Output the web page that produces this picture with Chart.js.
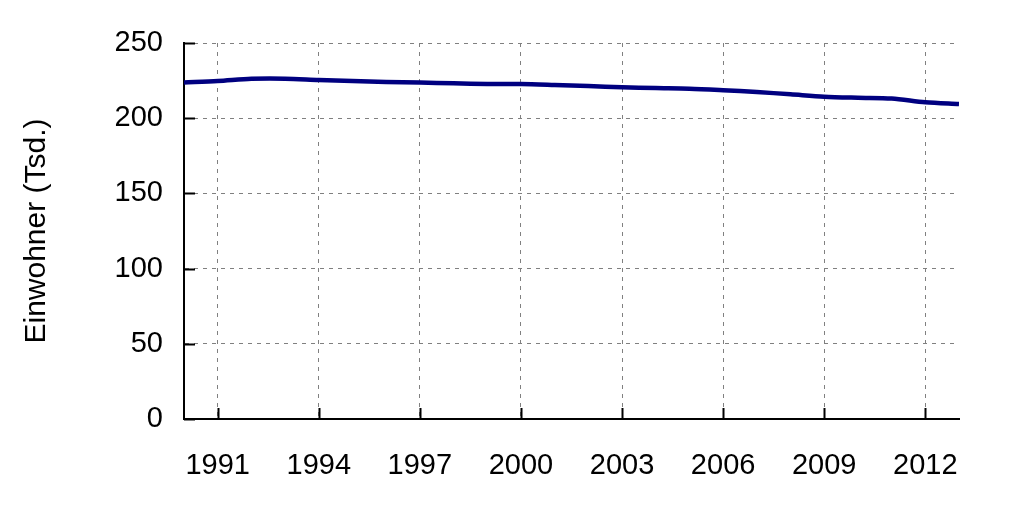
<!DOCTYPE html>
<html>
<head>
<meta charset="utf-8">
<script src="https://cdn.jsdelivr.net/npm/chart.js@4"></script>
<style>
  html, body { margin: 0; padding: 0; background: #fff; }
  #wrap { width: 1024px; height: 512px; }
</style>
</head>
<body>
<div id="wrap"><canvas id="chart" width="1024" height="512"></canvas></div>
<script>
// Jahre und Einwohner (Tsd.)
const years = [1990, 1991, 1992, 1993, 1994, 1995, 1996, 1997, 1998, 1999, 2000, 2001,
               2002, 2003, 2004, 2005, 2006, 2007, 2008, 2009, 2010, 2011, 2012, 2013];
const einwohner = [223.8, 224.7, 226.2, 226.3, 225.4, 224.7, 224.1, 223.7, 223.2, 222.8, 222.7, 222.1,
                   221.4, 220.5, 220.0, 219.6, 218.6, 217.4, 215.9, 214.3, 213.6, 213.1, 210.6, 209.4];
const xTicks = [1991, 1994, 1997, 2000, 2003, 2006, 2009, 2012];
const yTicks = [0, 50, 100, 150, 200, 250];

const FONT = "'Liberation Sans', Arial, sans-serif";

// kleine Striche nach innen an den Achsen
const innerTicks = {
    id: "innerTicks",
    afterDatasetsDraw(chart) {
        const { ctx, scales: { x, y }, chartArea } = chart;
        ctx.save();
        ctx.strokeStyle = "#000";
        ctx.lineWidth = 2;
        ctx.beginPath();
        xTicks.forEach((t) => {
            const px = Math.round(x.getPixelForValue(t)) + 0.5;
            ctx.moveTo(px, chartArea.bottom);
            ctx.lineTo(px, chartArea.bottom - 11);
        });
        yTicks.forEach((t) => {
            const py = Math.round(y.getPixelForValue(t)) + 0.5;
            ctx.moveTo(chartArea.left, py);
            ctx.lineTo(chartArea.left + 11, py);
        });
        ctx.stroke();
        ctx.restore();
    },
};

new Chart(document.getElementById("chart"), {
    type: "line",
    data: {
        datasets: [{
            data: years.map((yr, i) => ({ x: yr, y: einwohner[i] })),
            borderColor: "#000080",
            borderWidth: 4.5,
            pointRadius: 0,
            tension: 0.3,
            fill: false,
        }],
    },
    options: {
        responsive: false,
        animation: false,
        layout: { padding: { left: 0, right: 65, top: 43, bottom: 0 } },
        plugins: { legend: { display: false }, tooltip: { enabled: false } },
        scales: {
            x: {
                type: "linear",
                min: 1990,
                max: 2013,
                afterBuildTicks: (s) => { s.ticks = xTicks.map((v) => ({ value: v })); },
                afterFit: (s) => { s.height = 93; },
                grid: { color: "#808080", lineWidth: 1, drawTicks: false },
                border: { display: true, color: "#000", width: 2, dash: [4, 5] },
                ticks: {
                    color: "#000",
                    font: { family: FONT, size: 29 },
                    padding: 30,
                    maxRotation: 0,
                    callback: (v) => String(v),
                },
            },
            y: {
                min: 0,
                max: 250,
                afterBuildTicks: (s) => { s.ticks = yTicks.map((v) => ({ value: v })); },
                afterFit: (s) => { s.width = 184; },
                grid: { color: "#808080", lineWidth: 1, drawTicks: false },
                border: { display: true, color: "#000", width: 2, dash: [4, 5] },
                ticks: {
                    color: "#000",
                    font: { family: FONT, size: 29 },
                    padding: 21,
                },
                title: {
                    display: true,
                    text: "Einwohner (Tsd.)",
                    color: "#000",
                    font: { family: FONT, size: 30 },
                    padding: { top: 19, bottom: 0 },
                },
            },
        },
    },
    plugins: [innerTicks],
});
</script>
</body>
</html>
